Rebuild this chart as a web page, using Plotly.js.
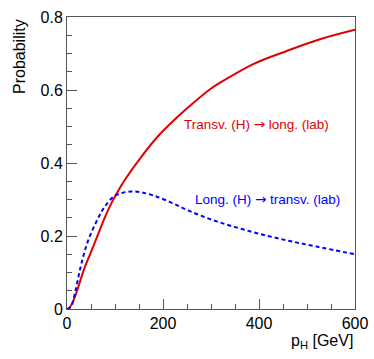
<!DOCTYPE html>
<html>
<head>
<meta charset="utf-8">
<script src="https://cdn.plot.ly/plotly-3.0.1.min.js"></script>
<style>
  html, body { margin: 0; padding: 0; background: #fff; }
  #plot { width: 374px; height: 359px; }
</style>
</head>
<body>
<div id="plot"></div>
<script>
// p_H values [GeV] and probabilities
const transvX = [0, 4, 11, 21.5, 35, 49, 63, 77, 91, 108, 121, 156, 190, 225, 260, 298, 319, 388, 458, 527, 600];
const transvY = [0, 0.002, 0.016, 0.052, 0.107, 0.153, 0.199, 0.245, 0.286, 0.327, 0.355, 0.419, 0.474, 0.52, 0.561, 0.602, 0.620, 0.671, 0.707, 0.739, 0.765];

const longX = [0, 8, 18, 28.5, 42, 60, 77, 98, 115, 133, 153, 180, 215, 256, 312, 381, 451, 520, 600];
const longY = [0, 0.006, 0.052, 0.116, 0.18, 0.236, 0.277, 0.309, 0.318, 0.322, 0.320, 0.311, 0.293, 0.268, 0.240, 0.213, 0.190, 0.171, 0.150];

const ARROW = '<span style="font-family:DejaVu Sans">\u2192</span>';
const transvLabel = "Transv. (H) " + ARROW + " long. (lab)";
const longLabel = "Long. (H) " + ARROW + " transv. (lab)";

const FONT = "Liberation Sans, Arial, Helvetica, sans-serif";
const RED = "#e00000";
const BLUE = "#0000ff";

const data = [
    {
        x: transvX, y: transvY, type: "scatter", mode: "lines",
        line: { color: RED, width: 2, shape: "spline", smoothing: 1 },
        hoverinfo: "skip"
    },
    {
        x: longX, y: longY, type: "scatter", mode: "lines",
        line: { color: BLUE, width: 2, dash: "4px,3px", shape: "spline", smoothing: 1 },
        hoverinfo: "skip"
    }
];

const axisCommon = {
    showline: true, linecolor: "#555", linewidth: 1, mirror: true,
    showgrid: false, zeroline: false,
    ticks: "inside", ticklen: 10, tickwidth: 1, tickcolor: "#555",
    tickfont: { family: FONT, size: 16, color: "#000" },
    minor: { ticks: "inside", ticklen: 5, tickcolor: "#555" }
};

const layout = {
    width: 374, height: 359,
    margin: { l: 67, r: 19, t: 17, b: 50 },
    paper_bgcolor: "#fff", plot_bgcolor: "#fff",
    showlegend: false,
    font: { family: FONT, color: "#000" },
    xaxis: Object.assign({}, axisCommon, {
        range: [0, 600], dtick: 200, tick0: 0,
        minor: Object.assign({}, axisCommon.minor, { dtick: 50 })
    }),
    yaxis: Object.assign({}, axisCommon, {
        range: [0, 0.8], dtick: 0.2, tick0: 0,
        minor: Object.assign({}, axisCommon.minor, { dtick: 0.05 })
    }),
    annotations: [
        {
            text: "Probability", xref: "paper", yref: "paper",
            x: -0.165, y: 1.0, xanchor: "center", yanchor: "top",
            textangle: -90, showarrow: false,
            font: { family: FONT, size: 16, color: "#000" }
        },
        {
            text: "p<sub>H</sub> [GeV]", xref: "paper", yref: "paper",
            x: 1.0, y: -0.11, xanchor: "right", yanchor: "middle",
            showarrow: false,
            font: { family: FONT, size: 16, color: "#000" }
        },
        {
            text: transvLabel, x: 394, y: 0.506, xref: "x", yref: "y",
            showarrow: false, font: { family: FONT, size: 13.5, color: RED }
        },
        {
            text: longLabel, x: 417, y: 0.302, xref: "x", yref: "y",
            showarrow: false, font: { family: FONT, size: 13.5, color: BLUE }
        }
    ]
};

Plotly.newPlot("plot", data, layout, { staticPlot: true, displayModeBar: false });
</script>
</body>
</html>
